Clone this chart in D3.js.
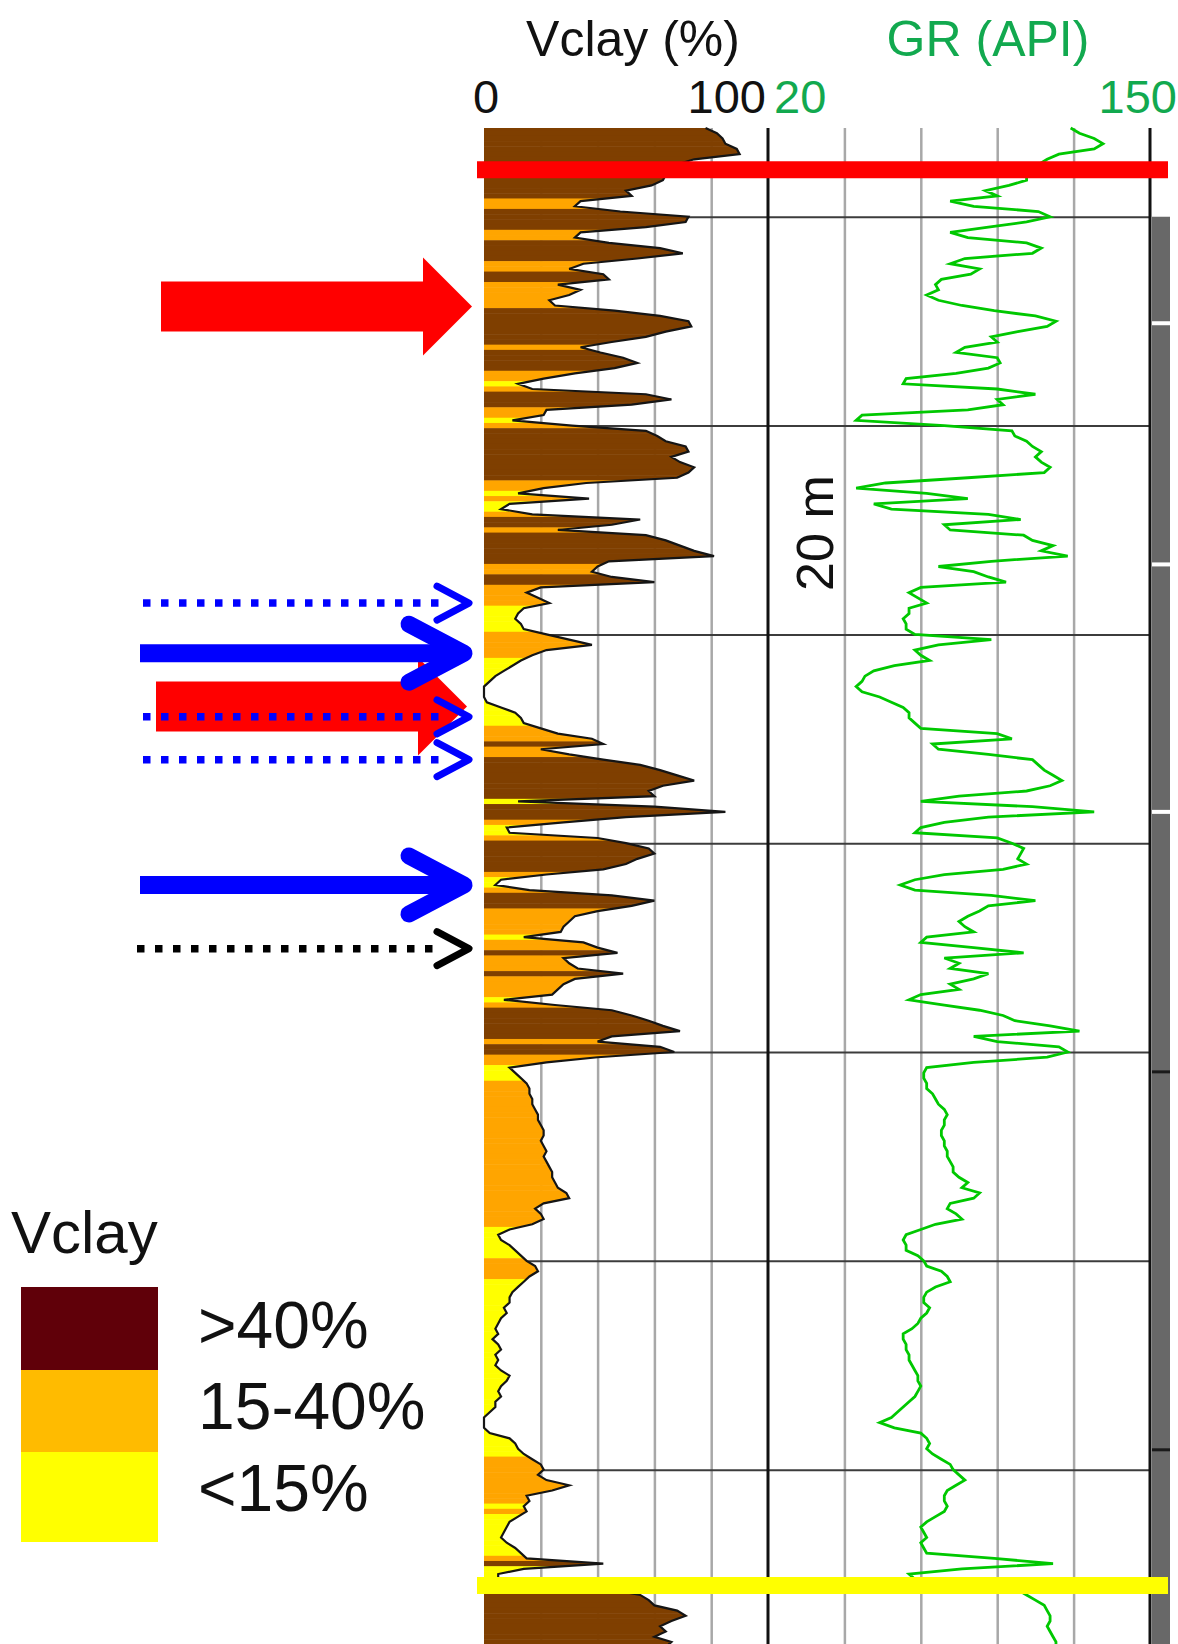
<!DOCTYPE html>
<html>
<head>
<meta charset="utf-8">
<script src="https://cdn.jsdelivr.net/npm/d3@7"></script>
<style>
  body { margin: 0; background: #fff; }
  svg { display: block; font-family: "Liberation Sans", Arial, sans-serif; }
</style>
</head>
<body>
<div id="chart"></div>
<script>
// log samples, every 0.5 m from the top of the section
const startDepth = 1991.5;
const sampleStep = 0.5;

const vclay = [
  78, 82, 84, 85, 89, 90, 74, 68, 66, 64, 63, 59, 50, 52, 34, 32, 48, 72, 71, 57,
  34, 32, 44, 62, 70, 54, 35, 30, 42, 44, 26, 34, 30, 23, 25, 46, 62, 72, 73, 64,
  57, 45, 34, 41, 49, 54, 46, 32, 21, 12, 17, 57, 66, 52, 22, 21, 10, 31, 57, 61,
  64, 71, 72, 66, 69, 74, 72, 68, 36, 21, 12, 37, 9, 6, 17, 55, 45, 26, 57, 64,
  69, 74, 81, 44, 40, 38, 45, 60, 20, 15, 19, 23, 14, 12, 11, 13, 14, 22, 30, 38,
  22, 17, 13, 10, 7, 4, 2, 0, 0, 0, 1, 6, 11, 13, 14, 20, 26, 38, 42, 20,
  30, 42, 55, 62, 68, 74, 63, 58, 60, 12, 60, 85, 50, 28, 8, 9, 40, 50, 58, 60,
  54, 50, 42, 22, 6, 4, 16, 45, 60, 52, 40, 32, 30, 28, 27, 14, 35, 40, 47, 28,
  30, 33, 49, 32, 28, 26, 24, 7, 25, 45, 52, 58, 63, 69, 45, 40, 62, 67, 40, 22,
  9, 11, 13, 15, 16, 16, 17, 17, 18, 19, 19, 20, 21, 21, 20, 21, 22, 21, 22, 23,
  24, 24, 25, 26, 29, 30, 21, 18, 20, 21, 17, 9, 5, 6, 9, 11, 13, 15, 18, 19,
  16, 14, 12, 10, 9, 9, 7, 8, 6, 5, 4, 5, 3, 5, 6, 4, 5, 4, 6, 9,
  8, 6, 5, 6, 4, 4, 2, 0, 0, 0, 2, 9, 11, 12, 14, 17, 20, 21, 19, 22,
  30, 24, 15, 16, 14, 15, 12, 9, 8, 7, 6, 8, 11, 13, 15, 42, 14, 5, 5, 20,
  45, 55, 58, 60, 68, 71, 66, 62, 64, 60, 66, 64
];

const gr = [
  123, 126, 131, 134, 131, 119, 115, 112, 110, 108, 108, 102, 94, 98, 82, 90, 112, 116, 108, 95,
  82, 88, 108, 113, 110, 87, 82, 92, 89, 79, 77, 78, 74, 78, 86, 97, 111, 118, 115, 105,
  96, 98, 87, 84, 98, 99, 95, 84, 67, 66, 98, 111, 98, 100, 88, 52, 50, 80, 103, 104,
  108, 110, 113, 111, 113, 116, 114, 88, 60, 50, 74, 88, 56, 62, 95, 106, 80, 82, 107, 110,
  117, 113, 122, 96, 78, 90, 95, 101, 72, 68, 71, 74, 68, 68, 66, 67, 67, 70, 96, 78,
  70, 72, 75, 63, 56, 53, 52, 50, 52, 58, 62, 66, 68, 68, 70, 72, 98, 103, 76, 78,
  95, 110, 112, 114, 117, 120, 116, 108, 85, 72, 110, 131, 95, 80, 72, 70, 98, 103, 107, 106,
  105, 108, 100, 80, 70, 65, 70, 96, 111, 95, 92, 88, 85, 87, 90, 74, 72, 90, 107, 80,
  85, 82, 95, 90, 82, 85, 72, 68, 80, 92, 100, 104, 116, 126, 90, 98, 119, 122, 115, 90,
  74, 73, 73, 74, 74, 76, 77, 78, 80, 81, 80, 80, 79, 79, 80, 80, 81, 81, 82, 83,
  83, 85, 88, 86, 92, 90, 82, 81, 84, 86, 77, 72, 67, 66, 67, 67, 71, 73, 74, 79,
  81, 82, 77, 74, 73, 73, 75, 74, 72, 71, 69, 66, 66, 67, 67, 68, 68, 69, 70, 71,
  71, 72, 71, 70, 68, 66, 64, 62, 58, 63, 72, 74, 75, 74, 76, 79, 82, 83, 85, 87,
  84, 81, 80, 80, 81, 80, 77, 74, 72, 73, 74, 72, 73, 74, 97, 117, 86, 68, 70, 90,
  105, 108, 111, 114, 115, 116, 116, 115, 116, 117, 118, 118
];

const depthTicks = [2000, 2020, 2040, 2060, 2080, 2100, 2120];
const vclayGrid = [20, 40, 60, 80];
const grGrid = [46, 72, 98, 124];
const classLabels = [">40%", "15-40%", "<15%"];

// picked surfaces and arrows on the left (depths in m)
const redLineDepth = 1995.5;
const yellowLineDepth = 2131.1;
const redArrowDepths = [2008.6, 2046.9];
const blueSolidDepths = [2041.8, 2064];
const blueDottedDepths = [2037, 2047.9, 2052];
const blackDottedDepths = [2070.1];
const barGapDepths = [2010.2, 2033.3, 2057];
const barLineDepths = [2081.9, 2118.1];

const W = 1178, H = 1644;
const brown = "#7f3f00", orange = "#ffa500", yellow = "#ffff00";
const legendColors = ["#600009", "#ffbb00", "#ffff00"];
const green = "#00c800", labelGreen = "#12a94f";

const svg = d3.select("#chart").append("svg")
  .attr("width", W)
  .attr("height", H);

const x = d3.scaleLinear().domain([0, 100]).range([484, 768]);
const xGr = d3.scaleLinear().domain([20, 150]).range([768, 1150]);
const y = d3.scaleLinear().domain([startDepth, 2136.7]).range([128, H]);
const trackTop = y(startDepth);

const data = vclay.map((v, i) => ({depth: startDepth + i * sampleStep, v: v, gr: gr[i]}));

// grid
svg.append('g')
    .attr('transform', `translate(0,${trackTop})`)
    .call(d3.axisBottom(x).tickValues(vclayGrid).tickSize(H - trackTop).tickFormat(""))
    .call(g => g.select('.domain').remove())
    .selectAll('line').attr('stroke', '#a8a8a8').attr('stroke-width', 2.5);

svg.append('g')
    .attr('transform', `translate(0,${trackTop})`)
    .call(d3.axisBottom(xGr).tickValues(grGrid).tickSize(H - trackTop).tickFormat(""))
    .call(g => g.select('.domain').remove())
    .selectAll('line').attr('stroke', '#a8a8a8').attr('stroke-width', 2.5);

svg.append('g')
    .attr('transform', `translate(${x(0)},0)`)
    .call(d3.axisRight(y).tickValues(depthTicks).tickSize(xGr(150) - x(0)).tickFormat(""))
    .call(g => g.select('.domain').remove())
    .selectAll('line').attr('stroke', '#3c3c3c').attr('stroke-width', 2);

// Vclay fill, coloured by class, clipped to the curve
const area = d3.area()
    .y(d => y(d.depth))
    .x0(x(0))
    .x1(d => x(d.v));

svg.append('clipPath').attr('id', 'vclip')
  .append('path').attr('d', area(data));

const classColor = v => v > 40 ? brown : (v >= 15 ? orange : yellow);
const band = y(startDepth + sampleStep) - y(startDepth);

svg.append('g')
    .attr('clip-path', 'url(#vclip)')
  .selectAll('rect')
  .data(data)
  .join('rect')
    .attr('x', x(0))
    .attr('width', x(100) - x(0))
    .attr('y', d => y(d.depth) - band / 2)
    .attr('height', band + 0.5)
    .attr('fill', d => classColor(d.v));

svg.append('path')
    .attr('d', d3.line().y(d => y(d.depth)).x(d => x(d.v))(data))
    .attr('fill', 'none')
    .attr('stroke', '#151515')
    .attr('stroke-width', 2.2);

// track borders
[x(100), xGr(150)].forEach(px => {
  svg.append('line')
      .attr('x1', px).attr('x2', px)
      .attr('y1', trackTop).attr('y2', H)
      .attr('stroke', '#111').attr('stroke-width', 3);
});

// GR curve
svg.append('path')
    .attr('d', d3.line().y(d => y(d.depth)).x(d => xGr(d.gr))(data))
    .attr('fill', 'none')
    .attr('stroke', green)
    .attr('stroke-width', 2.8);

// grey column on the right
svg.append('rect')
    .attr('x', xGr(150) + 2).attr('width', 18)
    .attr('y', y(2000)).attr('height', H - y(2000))
    .attr('fill', '#686868');
svg.selectAll('.gap').data(barGapDepths).join('rect')
    .attr('x', xGr(150) + 2).attr('width', 18)
    .attr('y', d => y(d) - 2).attr('height', 4)
    .attr('fill', '#fff');
svg.selectAll('.brk').data(barLineDepths).join('rect')
    .attr('x', xGr(150) + 2).attr('width', 18)
    .attr('y', d => y(d) - 1.5).attr('height', 3)
    .attr('fill', '#1a1a1a');

// red and yellow surfaces
[[redLineDepth, '#ff0000'], [yellowLineDepth, yellow]].forEach(([d, c]) => {
  svg.append('line')
      .attr('x1', 477).attr('x2', 1168)
      .attr('y1', y(d)).attr('y2', y(d))
      .attr('stroke', c).attr('stroke-width', 17);
});

// headers
svg.append('text')
    .attr('x', 633).attr('y', 56)
    .attr('text-anchor', 'middle')
    .attr('font-size', 50)
    .attr('fill', '#111')
    .text('Vclay (%)');
svg.append('text')
    .attr('x', 988).attr('y', 56)
    .attr('text-anchor', 'middle')
    .attr('font-size', 50)
    .attr('fill', labelGreen)
    .text('GR (API)');

const tickY = 113;
svg.append('text').attr('x', x(0) + 2).attr('y', tickY).attr('text-anchor', 'middle')
    .attr('font-size', 47).attr('fill', '#111').text('0');
svg.append('text').attr('x', x(100) - 2).attr('y', tickY).attr('text-anchor', 'end')
    .attr('font-size', 47).attr('fill', '#111').text('100');
svg.append('text').attr('x', xGr(20) + 6).attr('y', tickY).attr('text-anchor', 'start')
    .attr('font-size', 47).attr('fill', labelGreen).text('20');
svg.append('text').attr('x', W - 1).attr('y', tickY).attr('text-anchor', 'end')
    .attr('font-size', 47).attr('fill', labelGreen).text('150');

// scale note
svg.append('text')
    .attr('transform', `translate(833,${y(2030.3)}) rotate(-90)`)
    .attr('text-anchor', 'middle')
    .attr('font-size', 52)
    .attr('fill', '#111')
    .text('20 m');

// arrows
const arrows = svg.append('g');
const redTips = [472, 467];
arrows.selectAll('.red').data(redArrowDepths).join('path')
    .attr('transform', (d, i) => `translate(${redTips[i]},${y(d)})`)
    .attr('d', 'M-311,-25H-49V-49L0,0L-49,49V25H-311Z')
    .attr('fill', '#ff0000');

const dotted = (depths, color, x0) => {
  depths.forEach(d => {
    const yy = y(d);
    arrows.append('line')
        .attr('x1', x0).attr('x2', 442)
        .attr('y1', yy).attr('y2', yy)
        .attr('stroke', color).attr('stroke-width', 7.5)
        .attr('stroke-dasharray', '7.5 10.5');
    arrows.append('path')
        .attr('d', `M437,${yy - 17}L469,${yy}L437,${yy + 17}`)
        .attr('fill', 'none')
        .attr('stroke', color).attr('stroke-width', 7)
        .attr('stroke-linecap', 'round').attr('stroke-linejoin', 'round');
  });
};
dotted(blueDottedDepths, '#0000ff', 143);
dotted(blackDottedDepths, '#000', 137);

blueSolidDepths.forEach(d => {
  const yy = y(d);
  arrows.append('line')
      .attr('x1', 140).attr('x2', 460)
      .attr('y1', yy).attr('y2', yy)
      .attr('stroke', '#0000ff').attr('stroke-width', 18);
  arrows.append('path')
      .attr('d', `M409,${yy - 29}L464,${yy}L409,${yy + 29}`)
      .attr('fill', 'none')
      .attr('stroke', '#0000ff').attr('stroke-width', 17)
      .attr('stroke-linecap', 'round').attr('stroke-linejoin', 'round');
});

// legend
svg.append('text')
    .attr('x', 11).attr('y', 1253)
    .attr('font-size', 60)
    .attr('fill', '#111')
    .text('Vclay');

const boxTops = [1287, 1370, 1452];
const boxH = [83, 82, 90];
svg.selectAll('.lg').data(classLabels).join('rect')
    .attr('x', 21).attr('width', 137)
    .attr('y', (d, i) => boxTops[i]).attr('height', (d, i) => boxH[i])
    .attr('fill', (d, i) => legendColors[i]);

const labelBase = [1348, 1429, 1511];
svg.selectAll('.lt').data(classLabels).join('text')
    .attr('x', 198).attr('y', (d, i) => labelBase[i])
    .attr('font-size', 66)
    .attr('fill', '#111')
    .text(d => d);
</script>
</body>
</html>
